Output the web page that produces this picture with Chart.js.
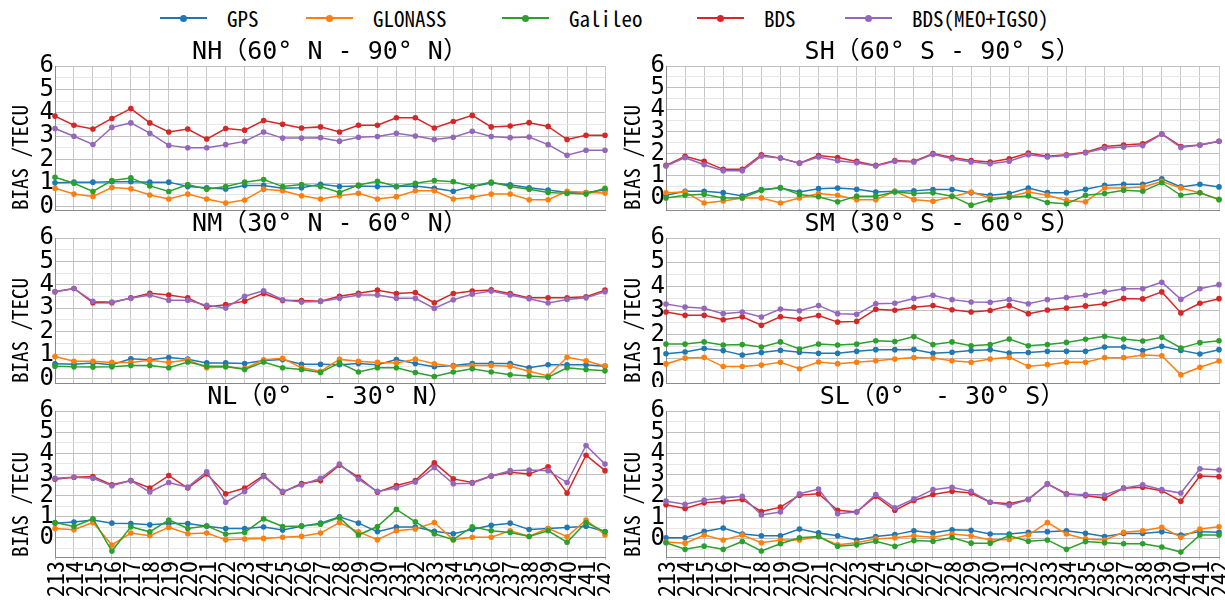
<!DOCTYPE html>
<html>
<head>
<meta charset="utf-8">
<script src="https://cdn.jsdelivr.net/npm/chart.js@4"></script>
<style>
  html, body { margin: 0; padding: 0; background: #fff; }
  #wrap { position: relative; width: 1225px; height: 603px; overflow: hidden; background: #fff; }
  #wrap canvas { position: absolute; }
  .lg-line { position: absolute; height: 2px; width: 47px; }
  .lg-dot { position: absolute; width: 7px; height: 7px; border-radius: 50%; }
  .lg-text { position: absolute; font: 21px 'Noto Sans Mono CJK SC', 'DejaVu Sans Mono', monospace; line-height: 24px; color: #000; white-space: pre; }
</style>
</head>
<body>
<div id="wrap">
  <div id="legend"></div>
  <canvas id="cNH" width="610" height="176"></canvas>
  <canvas id="cSH" width="613" height="176"></canvas>
  <canvas id="cNM" width="610" height="177"></canvas>
  <canvas id="cSM" width="613" height="177"></canvas>
  <canvas id="cNL" width="610" height="220"></canvas>
  <canvas id="cSL" width="613" height="220"></canvas>
</div>
<script>
// Day of year
const days = ['213','214','215','216','217','218','219','220','221','222','223','224','225','226','227',
              '228','229','230','231','232','233','234','235','236','237','238','239','240','241','242'];

const systems = ['GPS', 'GLONASS', 'Galileo', 'BDS', 'BDS(MEO+IGSO)'];
const colors  = ['#1f77b4', '#ff7f0e', '#2ca02c', '#d62728', '#9467bd'];

// NH (60° N - 90° N)
const gpsNH     = [1.01,1.04,1.04,1.06,1.06,1.04,1.04,0.85,0.80,0.75,0.90,0.90,0.78,0.80,0.95,0.85,0.88,0.85,0.85,0.88,0.78,0.65,0.85,1.00,0.93,0.80,0.70,0.60,0.60,0.70];
const glonassNH = [0.78,0.53,0.43,0.81,0.76,0.49,0.32,0.53,0.32,0.15,0.28,0.74,0.67,0.46,0.32,0.46,0.56,0.32,0.42,0.67,0.67,0.32,0.39,0.53,0.53,0.29,0.29,0.65,0.60,0.58];
const galileoNH = [1.25,0.99,0.64,1.11,1.22,0.88,0.64,0.94,0.74,0.85,1.04,1.15,0.85,0.94,0.85,0.60,0.92,1.08,0.85,0.99,1.11,1.06,0.85,1.04,0.85,0.74,0.60,0.56,0.53,0.78];
const bdsNH     = [3.86,3.47,3.31,3.76,4.18,3.57,3.18,3.31,2.88,3.33,3.26,3.67,3.51,3.35,3.40,3.18,3.47,3.47,3.79,3.79,3.35,3.63,3.89,3.40,3.44,3.58,3.42,2.86,3.04,3.04];
const bdsMiNH   = [3.33,3.00,2.65,3.38,3.57,3.13,2.61,2.51,2.51,2.64,2.78,3.18,2.92,2.92,2.94,2.79,2.96,2.99,3.13,3.01,2.86,2.96,3.21,2.99,2.94,2.97,2.64,2.19,2.40,2.40];

// SH (60° S - 90° S)
const gpsSH     = [0.12,0.30,0.30,0.24,0.09,0.38,0.45,0.27,0.42,0.45,0.39,0.27,0.30,0.32,0.38,0.38,0.23,0.12,0.20,0.45,0.24,0.24,0.39,0.57,0.62,0.62,0.87,0.50,0.62,0.50];
const glonassSH = [0.23,0.27,-0.23,-0.14,0.00,0.00,-0.23,0.00,0.20,0.12,-0.08,-0.08,0.30,-0.08,-0.15,0.05,0.27,0.00,0.05,0.27,0.12,-0.12,-0.18,0.45,0.45,0.50,0.75,0.45,0.23,-0.06];
const galileoSH = [0.00,0.12,0.17,0.00,0.00,0.35,0.47,0.15,0.05,-0.18,0.08,0.08,0.27,0.20,0.23,0.08,-0.33,-0.08,0.03,0.09,-0.21,-0.27,0.12,0.20,0.35,0.30,0.69,0.12,0.23,-0.08];
const bdsSH     = [1.48,1.89,1.66,1.30,1.30,1.96,1.81,1.58,1.93,1.84,1.66,1.48,1.70,1.66,2.02,1.84,1.70,1.63,1.78,2.04,1.90,1.96,2.08,2.34,2.41,2.46,2.91,2.34,2.41,2.58];
const bdsMiSH   = [1.45,1.83,1.51,1.24,1.24,1.90,1.81,1.58,1.86,1.69,1.60,1.45,1.67,1.63,1.98,1.78,1.63,1.55,1.67,1.96,1.86,1.93,2.05,2.26,2.31,2.38,2.90,2.29,2.41,2.58];

// NM (30° N - 60° N)
const gpsNM     = [0.62,0.60,0.66,0.58,0.84,0.79,0.89,0.82,0.66,0.66,0.63,0.76,0.80,0.60,0.60,0.58,0.63,0.58,0.80,0.63,0.50,0.55,0.63,0.63,0.63,0.45,0.58,0.58,0.58,0.52];
const glonassNM = [0.93,0.73,0.73,0.68,0.68,0.77,0.68,0.79,0.45,0.48,0.42,0.79,0.86,0.45,0.30,0.81,0.73,0.68,0.66,0.82,0.62,0.52,0.55,0.55,0.52,0.30,0.10,0.90,0.75,0.52];
const galileoNM = [0.52,0.49,0.48,0.49,0.55,0.55,0.45,0.70,0.52,0.52,0.38,0.70,0.45,0.38,0.25,0.66,0.27,0.45,0.45,0.25,0.08,0.27,0.41,0.27,0.15,0.10,0.05,0.45,0.38,0.32];
const bdsNM     = [3.70,3.84,3.23,3.23,3.44,3.64,3.56,3.44,3.05,3.15,3.30,3.63,3.33,3.33,3.30,3.51,3.64,3.77,3.63,3.67,3.23,3.63,3.73,3.78,3.63,3.44,3.44,3.44,3.49,3.77];
const bdsMiNM   = [3.70,3.84,3.29,3.26,3.42,3.56,3.34,3.34,3.12,3.01,3.51,3.74,3.36,3.26,3.29,3.42,3.56,3.56,3.42,3.42,2.99,3.36,3.60,3.73,3.56,3.40,3.22,3.37,3.44,3.70];

// SM (30° S - 60° S)
const gpsSM     = [1.21,1.28,1.43,1.34,1.16,1.26,1.35,1.27,1.23,1.23,1.31,1.38,1.38,1.39,1.23,1.27,1.34,1.38,1.24,1.26,1.31,1.31,1.31,1.49,1.49,1.34,1.52,1.35,1.20,1.38];
const glonassSM = [0.79,1.03,1.06,0.68,0.68,0.74,0.86,0.59,0.87,0.80,0.86,0.92,0.99,1.05,1.03,0.92,0.86,0.99,1.06,0.69,0.76,0.86,0.86,1.05,1.05,1.16,1.13,0.34,0.65,0.91];
const galileoSM = [1.61,1.61,1.70,1.57,1.59,1.49,1.70,1.41,1.61,1.57,1.61,1.75,1.72,1.92,1.59,1.70,1.54,1.59,1.82,1.54,1.59,1.68,1.81,1.93,1.82,1.74,1.89,1.45,1.67,1.75];
const bdsSM     = [2.94,2.80,2.80,2.62,2.74,2.39,2.74,2.65,2.79,2.52,2.55,3.05,3.01,3.13,3.21,3.03,2.94,3.00,3.20,2.87,3.02,3.10,3.19,3.28,3.50,3.48,3.77,2.90,3.30,3.49];
const bdsMiSM   = [3.27,3.14,3.09,2.87,2.94,2.73,3.06,2.99,3.21,2.87,2.84,3.28,3.30,3.50,3.63,3.45,3.35,3.34,3.45,3.28,3.45,3.54,3.63,3.77,3.90,3.90,4.17,3.46,3.90,4.07];

// NL (0° - 30° N)
const gpsNL     = [0.70,0.75,0.85,0.70,0.68,0.62,0.68,0.68,0.55,0.45,0.45,0.52,0.38,0.55,0.70,1.00,0.70,0.30,0.52,0.52,0.32,0.20,0.40,0.60,0.70,0.40,0.45,0.50,0.55,0.30];
const glonassNL = [0.45,0.39,0.73,-0.33,0.23,0.11,0.50,0.20,0.23,-0.09,-0.05,-0.02,0.03,0.08,0.23,0.73,0.29,-0.08,0.34,0.42,0.73,-0.08,0.03,0.03,0.34,0.08,0.45,0.06,0.85,0.14];
const galileoNL = [0.73,0.54,0.91,-0.62,0.53,0.29,0.85,0.45,0.57,0.19,0.26,0.91,0.54,0.57,0.65,0.96,0.14,0.54,1.35,0.76,0.20,-0.08,0.53,0.34,0.26,0.07,0.34,-0.20,0.73,0.29];
const bdsNL     = [2.78,2.87,2.90,2.51,2.71,2.36,2.95,2.36,3.02,2.09,2.36,2.95,2.16,2.57,2.71,3.44,2.87,2.16,2.48,2.71,3.55,2.79,2.62,2.93,3.10,3.02,3.36,2.12,3.91,3.18];
const bdsMiNL   = [2.82,2.87,2.82,2.47,2.71,2.17,2.62,2.40,3.13,1.69,2.20,2.90,2.20,2.51,2.82,3.49,2.78,2.20,2.36,2.64,3.33,2.56,2.59,2.93,3.18,3.21,3.18,2.62,4.37,3.49];

// SL (0° - 30° S)
const gpsSL     = [0.05,0.05,0.35,0.51,0.23,0.15,0.15,0.46,0.28,0.15,-0.05,0.11,0.20,0.38,0.28,0.43,0.40,0.23,0.23,0.31,0.34,0.38,0.26,0.11,0.25,0.25,0.34,0.18,0.34,0.31];
const glonassSL = [-0.15,-0.20,0.18,-0.05,0.18,-0.18,-0.05,-0.05,0.11,-0.28,-0.18,0.00,0.05,0.15,0.08,0.23,0.15,-0.05,-0.03,0.18,0.77,0.23,0.00,-0.05,0.31,0.38,0.54,0.08,0.46,0.57];
const galileoSL = [-0.18,-0.49,-0.34,-0.49,-0.12,-0.57,-0.23,0.05,0.11,-0.35,-0.28,-0.11,-0.35,-0.08,-0.11,0.06,-0.20,-0.20,0.15,-0.11,-0.05,-0.49,-0.12,-0.18,-0.23,-0.23,-0.38,-0.62,0.18,0.18];
const bdsSL     = [1.60,1.43,1.69,1.75,1.85,1.28,1.49,2.05,2.12,1.34,1.26,2.00,1.34,1.80,2.08,2.23,2.15,1.72,1.65,1.85,2.58,2.12,2.03,1.91,2.38,2.42,2.26,1.77,2.95,2.92];
const bdsMiSL   = [1.77,1.62,1.82,1.92,2.00,1.12,1.26,2.12,2.34,1.18,1.26,2.08,1.46,1.88,2.31,2.42,2.23,1.72,1.57,1.85,2.58,2.08,2.08,2.06,2.38,2.54,2.31,2.15,3.29,3.23];

const yTicksMax = 6;
const cjkMono = "'Noto Sans Mono CJK SC', 'DejaVu Sans Mono', monospace";
const wideMono = "'DejaVu Sans Mono', 'Noto Sans Mono CJK SC', monospace";

const panels = [
  { id: 'cNH', title: 'NH（60° N - 90° N）', col: 0, row: 0, yMin: -0.15, data: [gpsNH, glonassNH, galileoNH, bdsNH, bdsMiNH] },
  { id: 'cSH', title: 'SH（60° S - 90° S）', col: 1, row: 0, yMin: -0.55, data: [gpsSH, glonassSH, galileoSH, bdsSH, bdsMiSH] },
  { id: 'cNM', title: 'NM（30° N - 60° N）', col: 0, row: 1, yMin: -0.2,  data: [gpsNM, glonassNM, galileoNM, bdsNM, bdsMiNM] },
  { id: 'cSM', title: 'SM（30° S - 60° S）', col: 1, row: 1, yMin: 0,     data: [gpsSM, glonassSM, galileoSM, bdsSM, bdsMiSM] },
  { id: 'cNL', title: 'NL（0°  - 30° N）',  col: 0, row: 2, yMin: -0.9,  data: [gpsNL, glonassNL, galileoNL, bdsNL, bdsMiNL] },
  { id: 'cSL', title: 'SL（0°  - 30° S）',  col: 1, row: 2, yMin: -0.85, data: [gpsSL, glonassSL, galileoSL, bdsSL, bdsMiSL] }
];

// grid cell geometry: canvas placement, y-axis box width, x-axis box height
const cols = [ { left: 0, yWidth: 55, padRight: 5 }, { left: 612, yWidth: 54, padRight: 6 } ];
const rows = [ { top: 38, xHeight: 4 }, { top: 210, xHeight: 4 }, { top: 383, xHeight: 46 } ];
const titleSpace = 28;

// subplot title, centred over the plotting area
const panelTitle = {
  id: 'panelTitle',
  afterDraw(chart, args, opts) {
    const { ctx, chartArea } = chart;
    ctx.save();
    ctx.font = 'normal 25px ' + wideMono;
    ctx.fillStyle = '#000';
    ctx.textAlign = 'center';
    ctx.textBaseline = 'middle';
    ctx.fillText(opts.text, (chartArea.left + chartArea.right) / 2, chartArea.top - 14);
    ctx.restore();
  }
};

// legend
(function buildLegend() {
  const lg = document.getElementById('legend');
  const lineX = [160, 306, 502, 697, 845];
  const cy = 18;
  systems.forEach((name, i) => {
    const line = document.createElement('div');
    line.className = 'lg-line';
    line.style.left = lineX[i] + 'px';
    line.style.top = (cy - 1) + 'px';
    line.style.background = colors[i];
    lg.appendChild(line);
    const dot = document.createElement('div');
    dot.className = 'lg-dot';
    dot.style.left = (lineX[i] + 20) + 'px';
    dot.style.top = (cy - 3.5) + 'px';
    dot.style.background = colors[i];
    lg.appendChild(dot);
    const t = document.createElement('div');
    t.className = 'lg-text';
    t.textContent = name;
    t.style.left = (lineX[i] + 67) + 'px';
    t.style.top = (cy - 12) + 'px';
    lg.appendChild(t);
  });
})();

panels.forEach(p => {
  const c = cols[p.col], r = rows[p.row];
  const canvas = document.getElementById(p.id);
  canvas.style.left = c.left + 'px';
  canvas.style.top = r.top + 'px';
  const bottomRow = p.row === 2;

  new Chart(canvas, {
    type: 'line',
    plugins: [panelTitle],
    data: {
      labels: days,
      datasets: systems.map((name, i) => ({
        label: name,
        data: p.data[i],
        borderColor: colors[i],
        backgroundColor: colors[i],
        borderWidth: 1.5,
        pointRadius: 2.8,
        pointBorderWidth: 0,
        pointBackgroundColor: colors[i],
        tension: 0,
        fill: false,
        order: systems.length - i
      }))
    },
    options: {
      responsive: false,
      devicePixelRatio: 1,
      animation: false,
      events: [],
      layout: { padding: { left: 0, right: c.padRight, top: titleSpace, bottom: 0 } },
      plugins: {
        legend: { display: false },
        tooltip: { enabled: false },
        title: { display: false },
        panelTitle: { text: p.title }
      },
      scales: {
        x: {
          type: 'category',
          offset: false,
          grid: { color: '#c8c8c8', lineWidth: 1, drawTicks: bottomRow, tickLength: 3, offset: false },
          border: { color: '#8a8a8a', width: 1 },
          ticks: {
            display: bottomRow,
            autoSkip: false,
            minRotation: 90,
            maxRotation: 90,
            padding: 1,
            color: '#000',
            font: { family: cjkMono, size: 24, lineHeight: 1 }
          },
          afterFit(scale) {
            scale.height = r.xHeight;
            scale.paddingLeft = 0;
            scale.paddingRight = 0;
          }
        },
        y: {
          min: p.yMin,
          max: yTicksMax,
          grid: {
            drawTicks: false,
            lineWidth: 1,
            color: ctx => (Number.isInteger(ctx.tick.value) ? '#c0c0c0' : '#e6e6e6')
          },
          border: { color: '#8a8a8a', width: 1 },
          title: {
            display: true,
            text: 'BIAS /TECU',
            align: 'start',
            color: '#000',
            font: { family: cjkMono, size: 21, lineHeight: 1.2 },
            padding: { top: 7, bottom: 0 }
          },
          ticks: {
            stepSize: 0.5,
            includeBounds: false,
            autoSkip: false,
            padding: 1,
            color: '#000',
            font: { family: wideMono, size: 24, lineHeight: 1 },
            callback: v => (Number.isInteger(v) && v >= 0 ? String(v) : '')
          },
          afterFit(scale) {
            scale.width = c.yWidth;
            scale.paddingTop = 0;
            scale.paddingBottom = 0;
          }
        }
      }
    }
  });
});
</script>
</body>
</html>
